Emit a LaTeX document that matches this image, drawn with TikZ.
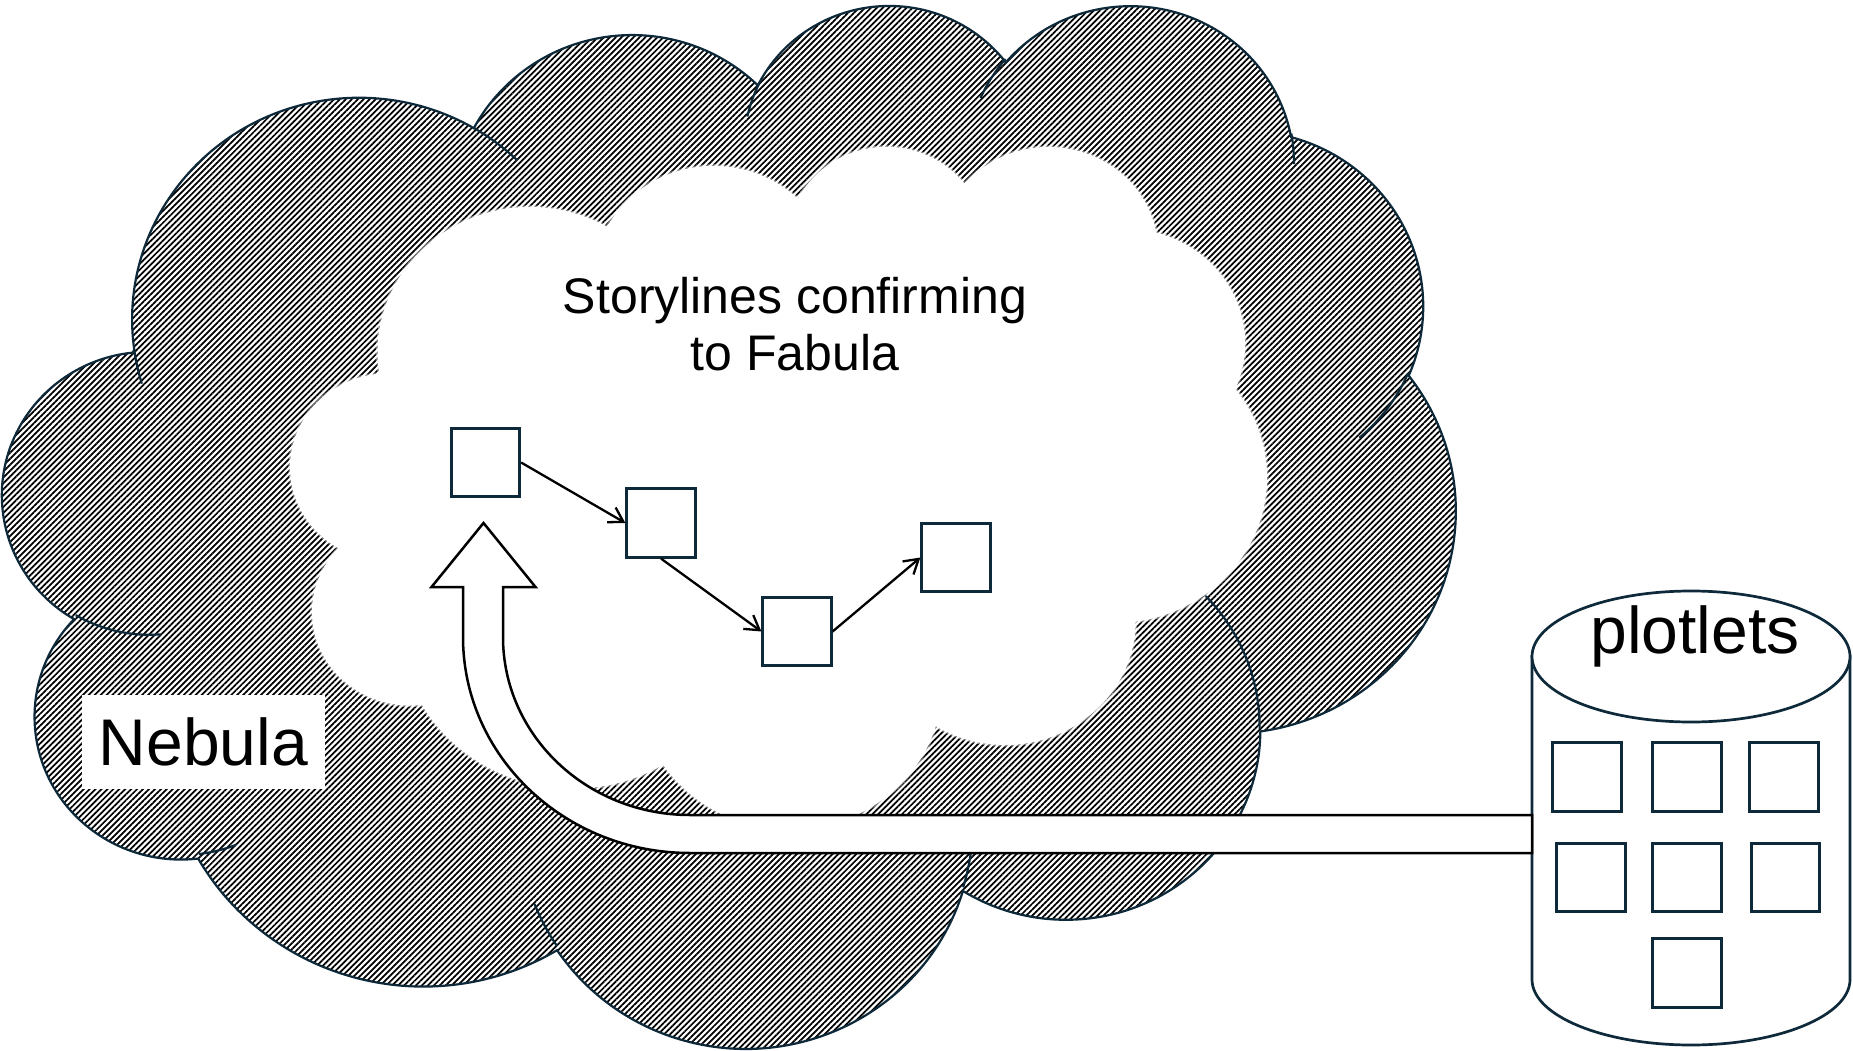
\documentclass[tikz,border=0pt]{standalone}
\usepackage{fontspec}
\setmainfont{Liberation Sans}
\usetikzlibrary{arrows.meta,patterns.meta}
\definecolor{navy}{HTML}{0E2A3A}
\tikzset{
  cloudline/.style={draw=navy, line width=2.2pt},
  storybox/.style={draw=navy, line width=2.7pt, fill=white, minimum size=68.5pt, inner sep=0pt},
  flow/.style={draw=black, line width=2.3pt, -{Straight Barb[length=14pt,width=17pt,line width=2.3pt]}},
  bigarrow/.style={draw=black, line width=2.5pt, fill=white, line join=miter},
  hatch/.style={pattern={Lines[angle=45,distance=4.2pt,line width=1.75pt]}, pattern color=black},
  storyfont/.style={font=\fontsize{50pt}{58pt}\selectfont},
  bigfont/.style={font=\fontsize{66pt}{76pt}\selectfont},
}
% PowerPoint cloud outline, coordinates in hundredths of the 43200 grid
\newcommand{\drawcloud}[1]{%
  \path[#1] (39.00,143.70)
    arc[start angle=-187.745, end angle=-59.64, x radius=67.53, y radius=91.90]
    arc[start angle=-152.02, end angle=-45.46, x radius=53.33, y radius=72.67]
    arc[start angle=-153.50, end angle=-37.33, x radius=43.65, y radius=59.45]
    arc[start angle=-139.72, end angle=-10.21, x radius=48.57, y radius=65.95]
    arc[start angle=-74.77, end angle=23.21, x radius=53.33, y radius=72.73]
    arc[start angle=-37.52, end angle=81.86, x radius=67.75, y radius=92.20]
    arc[start angle=0.46, end angle=121.98, x radius=57.85, y radius=78.67]
    arc[start angle=16.84, end angle=146.22, x radius=67.52, y radius=92.15]
    arc[start angle=58.98, end angle=150.20, x radius=77.20, y radius=105.43]
    arc[start angle=-276.69, end angle=-136.89, x radius=43.60, y radius=59.18]
    arc[start angle=-239.65, end angle=-95.89, x radius=43.45, y radius=59.45]
    -- cycle;}
\newcommand{\drawcloudinner}[1]{%
  \path[#1]
    (46.93,261.77) arc[start angle=85.55, end angle=120.35, x radius=43.45, y radius=59.45]
    (69.28,348.99) arc[start angle=68.24, end angle=83.31, x radius=43.60, y radius=59.18]
    (164.78,390.90) arc[start angle=146.22, end angle=158.47, x radius=67.52, y radius=92.15]
    (288.27,347.51) arc[start angle=4.74, end angle=16.84, x radius=67.52, y radius=92.15]
    (341.29,229.54) arc[start angle=-64.03, end angle=0.46, x radius=57.85, y radius=78.67]
    (417.98,153.54) arc[start angle=23.21, end angle=49.65, x radius=53.33, y radius=72.73]
    (383.24,54.26) arc[start angle=-10.21, end angle=0.82, x radius=48.57, y radius=65.95]
    (290.78,39.52) arc[start angle=-156.29, end angle=-139.72, x radius=48.57, y radius=65.95]
    (221.41,47.20) arc[start angle=-167.73, end angle=-153.50, x radius=43.65, y radius=59.45]
    (140.00,51.92) arc[start angle=-59.64, end angle=-45.74, x radius=67.53, y radius=91.90]
    (41.27,157.89) arc[start angle=163.19, end angle=172.26, x radius=67.53, y radius=91.90];}
\begin{document}
\begin{tikzpicture}[x=1pt, y=-1pt]
\useasboundingbox (0,0) rectangle (1853,1051);
\fill[white] (0,0) rectangle (1853,1051);

% Nebula (outer hatched cloud)
\begin{scope}[shift={(3.1,2.6)}, x=3.3614pt, y=-2.4134pt]
  \drawcloud{hatch}
  \drawcloud{cloudline}
  \drawcloudinner{cloudline}
\end{scope}

% inner white cloud (soft edged)
\begin{scope}[shift={(290.8,144.6)}, x=2.259pt, y=-1.58pt]
  \drawcloud{draw=white, line width=3pt, draw opacity=0.45}
  \drawcloud{fill=white}
\end{scope}

% storylines text
\node[storyfont, anchor=base] (story1) at (795,313) {Storylines confirming};
\node[storyfont, anchor=base] (story2) at (795,370) {to Fabula};

% Nebula label
\node[bigfont, fill=white, inner sep=0pt, minimum width=243pt, minimum height=94pt] (nebula) at (203.5,741.5) {Nebula};

% storyline boxes
\node[storybox] (A) at (485.5,462.5) {};
\node[storybox] (B) at (661,523) {};
\node[storybox] (C) at (797,631.5) {};
\node[storybox] (D) at (956,557.5) {};
\draw[flow] (A.east) -- (B.west);
\draw[flow] (B.south) -- (C.west);
\draw[flow] (C.east) -- (D.west);

% plotlets cylinder
\path[draw=navy, line width=2.7pt, fill=white]
  (1532,656.5) -- (1532,979.5)
  arc[start angle=180, end angle=0, x radius=159, y radius=65.5]
  -- (1850,656.5) -- cycle;
\path[draw=navy, line width=2.7pt, fill=white] (1691,656.5) ellipse[x radius=159, y radius=65.5];
\node[bigfont, anchor=base] (plotlets) at (1695,653) {plotlets};

\node[storybox] (p1) at (1587,777) {};
\node[storybox] (p2) at (1687,777) {};
\node[storybox] (p3) at (1784,777) {};
\node[storybox] (p4) at (1591,877.5) {};
\node[storybox] (p5) at (1687,877.5) {};
\node[storybox] (p6) at (1785.5,877.5) {};
\node[storybox] (p7) at (1687,973) {};

% block arrow from plotlets up to the storylines
\path[bigarrow]
  (463,587) -- (463,637)
  arc[start angle=180, end angle=90, x radius=227, y radius=216]
  -- (1532,853) -- (1532,815) -- (690,815)
  arc[start angle=90, end angle=180, x radius=187, y radius=178]
  -- (503,587) -- (535.5,587) -- (483.5,523) -- (431.5,587) -- cycle;
\end{tikzpicture}
\end{document}
